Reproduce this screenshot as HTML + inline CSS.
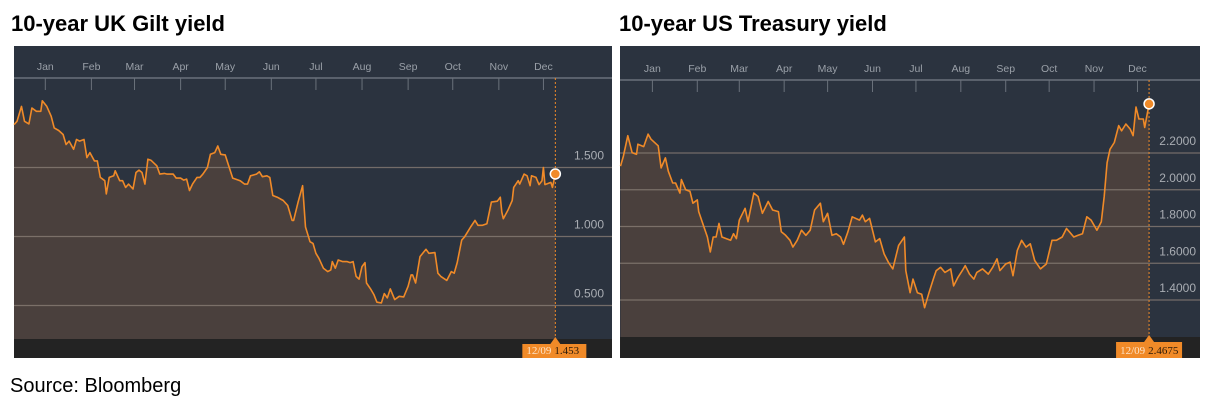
<!DOCTYPE html>
<html><head><meta charset="utf-8"><style>
html,body{margin:0;padding:0;background:#fff;}
svg{display:block;font-family:"Liberation Sans",sans-serif;}
</style></head><body>
<svg id="c" width="1218" height="412" viewBox="0 0 1218 412">
<text x="11" y="31" font-size="22" font-weight="bold" fill="#000">10-year UK Gilt yield</text>
<text x="619" y="31" font-size="22" font-weight="bold" fill="#000">10-year US Treasury yield</text>
<text x="10" y="392" font-size="20" fill="#000">Source: Bloomberg</text>
<g id="uk"></g>
<g id="us"></g>
</svg>
<script>
const months = ["Jan","Feb","Mar","Apr","May","Jun","Jul","Aug","Sep","Oct","Nov","Dec"];
const monthStartDays = [0,31,60,91,121,152,182,213,244,274,305,335];
const ukTicks = [0.5,1.0,1.5];
const ukTickLabels = ["0.500","1.000","1.500"];
const usTicks = [1.4,1.6,1.8,2.0,2.2];
const usTickLabels = ["1.4000","1.6000","1.8000","2.0000","2.2000"];
const ukDays = [-21,-19,-16,-14,-11,-9,-6,-3,-2,1,4,6,9,12,14,16,19,21,23,26,28,30,33,35,37,40,41,43,46,47,50,52,54,56,59,61,63,65,67,69,71,75,77,80,82,86,88,91,93,95,97,99,102,104,106,109,111,114,116,118,121,123,126,128,131,134,136,138,142,144,146,149,151,153,156,160,163,166,167,170,173,175,178,180,182,184,187,190,192,193,195,197,200,203,205,207,209,211,213,215,216,219,221,223,226,228,230,232,235,238,241,244,246,247,249,252,256,258,262,264,266,270,273,275,277,280,282,284,286,289,291,294,297,300,304,306,307,308,311,314,315,318,319,322,324,326,327,330,332,334,335,336,340,341,343];
const ukYield = [1.811,1.835,1.943,1.835,1.816,1.931,1.907,1.907,1.983,1.943,1.871,1.787,1.768,1.739,1.667,1.691,1.632,1.703,1.691,1.703,1.572,1.608,1.548,1.548,1.428,1.404,1.309,1.428,1.440,1.476,1.404,1.404,1.356,1.380,1.344,1.464,1.481,1.464,1.380,1.560,1.553,1.512,1.452,1.457,1.452,1.452,1.423,1.423,1.409,1.416,1.333,1.380,1.428,1.428,1.452,1.500,1.596,1.608,1.656,1.596,1.591,1.524,1.423,1.416,1.404,1.380,1.380,1.440,1.452,1.469,1.433,1.440,1.428,1.297,1.285,1.261,1.225,1.117,1.117,1.249,1.368,1.069,0.962,0.950,0.878,0.842,0.770,0.746,0.758,0.818,0.770,0.830,0.818,0.818,0.811,0.818,0.711,0.691,0.782,0.811,0.663,0.615,0.579,0.524,0.519,0.586,0.555,0.620,0.543,0.567,0.562,0.639,0.722,0.722,0.663,0.854,0.907,0.878,0.883,0.734,0.711,0.682,0.746,0.734,0.811,0.974,0.998,1.033,1.069,1.117,1.081,1.081,1.093,1.249,1.256,1.285,1.177,1.129,1.189,1.261,1.356,1.404,1.380,1.452,1.440,1.368,1.440,1.428,1.376,1.404,1.500,1.376,1.392,1.356,1.453];
const usDays = [-22,-20,-17,-14,-11,-10,-6,-3,-1,4,6,9,11,14,16,19,20,23,26,28,31,32,34,38,40,42,44,46,48,51,54,56,58,60,64,66,70,73,76,80,83,87,89,92,95,97,100,103,106,109,112,116,118,121,124,127,130,132,135,138,143,145,147,150,154,157,160,163,166,170,174,175,178,180,183,186,188,191,194,196,199,202,206,208,211,214,216,219,222,224,228,232,235,238,240,244,247,249,252,255,258,261,264,268,272,276,279,283,286,288,291,294,297,300,303,307,310,312,314,316,319,322,324,327,330,332,334,336,339,340,343];
const usYield = [2.128,2.183,2.294,2.202,2.193,2.248,2.235,2.303,2.275,2.239,2.119,2.174,2.101,2.037,2.037,1.982,2.055,2.000,1.991,1.927,1.945,1.881,1.835,1.743,1.661,1.743,1.743,1.817,1.743,1.734,1.725,1.761,1.734,1.835,1.899,1.826,1.982,1.963,1.872,1.936,1.890,1.881,1.771,1.752,1.725,1.688,1.725,1.780,1.752,1.780,1.890,1.927,1.826,1.872,1.752,1.761,1.743,1.703,1.771,1.853,1.835,1.862,1.826,1.844,1.716,1.734,1.651,1.605,1.569,1.697,1.743,1.560,1.440,1.514,1.440,1.431,1.358,1.440,1.514,1.560,1.578,1.550,1.569,1.477,1.523,1.560,1.587,1.541,1.514,1.550,1.569,1.541,1.578,1.624,1.560,1.596,1.606,1.532,1.670,1.725,1.688,1.706,1.615,1.569,1.596,1.725,1.725,1.743,1.789,1.771,1.743,1.752,1.761,1.853,1.835,1.780,1.826,1.963,2.147,2.220,2.257,2.349,2.321,2.358,2.330,2.294,2.450,2.385,2.385,2.339,2.4675];
const ukLast = {date:"12/09", value:"1.453"};
const usLast = {date:"12/09", value:"2.4675"};

const NS="http://www.w3.org/2000/svg";
function mk(parent, tag, attrs){const e=document.createElementNS(NS,tag);for(const k in attrs)e.setAttribute(k,attrs[k]);parent.appendChild(e);return e;}

function draw(g, cfg){
  const {left,right,top,axisY,bandY,bottom,x0,pxPerDay,yRefV,yRefPx,pxPerUnit,days,vals,ticks,tickLabels,labelX,last,boxW,prefix}=cfg;
  const xs=d=>x0+d*pxPerDay;
  const ys=v=>yRefPx-(v-yRefV)*pxPerUnit;
  const bg=mk(g,'rect',{x:left,y:top,width:right-left,height:bottom-top,fill:'#2b333f'});
  
  
  // area
  let d='M'+xs(days[0])+','+bandY;
  for(let i=0;i<days.length;i++) d+=' L'+xs(days[i]).toFixed(1)+','+ys(vals[i]).toFixed(1);
  d+=' L'+xs(days[days.length-1]).toFixed(1)+','+bandY+' Z';
  const area=mk(g,'path',{d:d,fill:'#4a403d'});
  
  
  // gridlines
  ticks.forEach((t,i)=>{
    const y=ys(t);
    const gl=mk(g,'line',{x1:left,x2:right,y1:y,y2:y,stroke:'#8c8078','stroke-width':1.2,'stroke-opacity':0.75});
    
    
    const tl=mk(g,'text',{x:labelX,y:y-8,'font-size':12,fill:'#a9adb3','text-anchor':'end'});
    tl.textContent=tickLabels[i];
    
    
  });
  // line
  let p='';
  for(let i=0;i<days.length;i++) p+=(i?' L':'M')+xs(days[i]).toFixed(1)+','+ys(vals[i]).toFixed(1);
  const ln=mk(g,'path',{d:p,fill:'none',stroke:'#f08a28','stroke-width':1.6,'stroke-linejoin':'round'});
  
  
  // top axis
  const ax=mk(g,'line',{x1:left,x2:right,y1:axisY,y2:axisY,stroke:'#6a717b','stroke-width':1.5});
  
  
  months.forEach((m,i)=>{
    const x=xs(monthStartDays[i]);
    const tk=mk(g,'line',{x1:x,x2:x,y1:axisY,y2:axisY+12,stroke:'#6a717b','stroke-width':1});
    
    
    const t=mk(g,'text',{x:x,y:axisY-8,'font-size':10.5,fill:'#9aa0a8','text-anchor':'middle'});
    t.textContent=m;
    
    
  });
  // bottom band
  const band=mk(g,'rect',{x:left,y:bandY,width:right-left,height:bottom-bandY,fill:'#232323'});
  
  
  // crosshair
  const lx=xs(days[days.length-1]), ly=ys(vals[vals.length-1]);
  const cross=mk(g,'line',{x1:lx,x2:lx,y1:axisY,y2:bandY,stroke:'#f08a28','stroke-width':1,'stroke-dasharray':'2,2'});
  
  
  const dot=mk(g,'circle',{cx:lx,cy:ly,r:5,fill:'#f08a28',stroke:'#fff','stroke-width':1.5});
  
  
  // value box
  const bx=lx-33;
  const box=mk(g,'path',{d:`M${bx},${bandY+5} L${lx-5},${bandY+5} L${lx},${bandY-2} L${lx+5},${bandY+5} L${bx+boxW},${bandY+5} L${bx+boxW},${bottom} L${bx},${bottom} Z`,fill:'#f08a28'});
  
  
  const dt=mk(g,'text',{x:bx+4,y:bottom-4,'font-size':11,fill:'#fde3c8','font-family':'Liberation Serif,serif'});
  dt.textContent=last.date;
  
  
  const vt=mk(g,'text',{x:bx+32,y:bottom-4,'font-size':11,fill:'#2a1a0a','font-family':'Liberation Serif,serif'});
  vt.textContent=last.value;
  
  
}
draw(document.getElementById('uk'),{left:14,right:612,top:46,axisY:78,bandY:339,bottom:358,x0:45.3,pxPerDay:1.487,yRefV:1.0,yRefPx:236.5,pxPerUnit:138,days:ukDays,vals:ukYield,ticks:ukTicks,tickLabels:ukTickLabels,labelX:604,last:ukLast,boxW:64,prefix:'uk'});
draw(document.getElementById('us'),{left:620,right:1200,top:46,axisY:80,bandY:337,bottom:358,x0:652.4,pxPerDay:1.448,yRefV:2.2,yRefPx:153,pxPerUnit:183.75,days:usDays,vals:usYield,ticks:usTicks,tickLabels:usTickLabels,labelX:1196,last:usLast,boxW:66,prefix:'us'});
</script>
</body></html>
